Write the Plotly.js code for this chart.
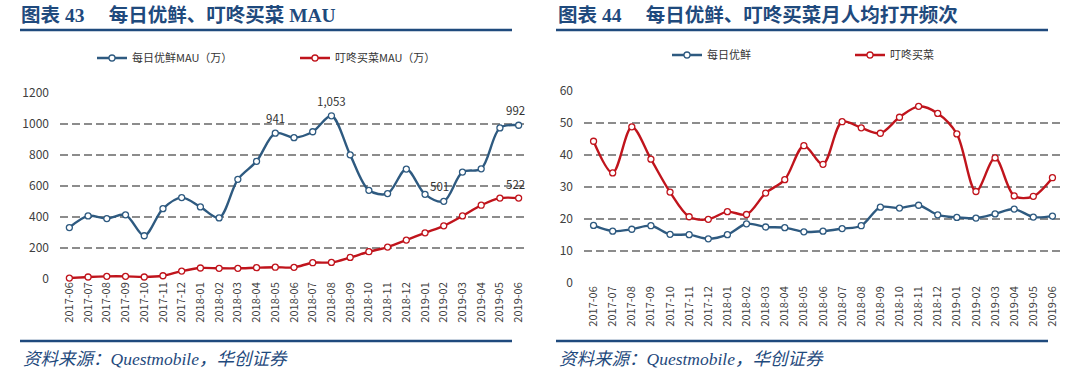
<!DOCTYPE html>
<html><head><meta charset="utf-8">
<script src="https://cdn.plot.ly/plotly-3.0.1.min.js"></script>
<style>html,body{margin:0;padding:0;background:#fff;overflow:hidden}#c{width:1080px;height:377px}</style>
</head><body><div id="c"></div>
<script>
const months = ["2017-06","2017-07","2017-08","2017-09","2017-10","2017-11","2017-12","2018-01","2018-02","2018-03","2018-04","2018-05","2018-06","2018-07","2018-08","2018-09","2018-10","2018-11","2018-12","2019-01","2019-02","2019-03","2019-04","2019-05","2019-06"];
const mryxMAU = [332,407,390,414,279,454,525,465,394,643,759,941,912,950,1053,801,572,551,709,546,501,690,711,975,992];
const ddmcMAU = [6,13,17,17,13,21,51,71,69,69,73,76,75,105,107,139,176,206,251,298,343,407,476,522,522];
const mryxFreq = [18.0,16.2,16.8,17.9,15.2,15.1,13.8,15.1,18.5,17.5,17.3,16.0,16.2,17.0,17.9,23.7,23.4,24.3,21.3,20.5,20.3,21.6,23.1,20.6,20.9];
const ddmcFreq = [44.3,34.4,48.8,38.7,28.4,20.7,19.9,22.3,21.4,28.1,32.3,42.9,37.1,50.4,48.5,46.8,51.8,55.2,53.0,46.6,28.6,39.1,27.2,27.1,32.9];
const labelIdxBlue = [11,14,20,24];
const labelIdxRed = [24];
const leftNames = ["每日优鲜MAU（万）","叮咚买菜MAU（万）"];
const rightNames = ["每日优鲜","叮咚买菜"];

const W=1080,H=377;
const px=x=>x/W, py=y=>1-y/H;
const BLUE="#2E5A80", RED="#C0141C", NAVY="#1F4A7D";
const CJK="'Noto Sans CJK SC', 'Noto Sans', sans-serif";

function tr(x,y,name,color,xa,ya,leg){
  return {x:x,y:y,name:name,type:'scatter',mode:'lines+markers',xaxis:xa,yaxis:ya,legend:leg,
    line:{color:color,width:2.4,shape:'spline',smoothing:0.9},
    marker:{symbol:'circle',size:6,color:'#fff',line:{color:color,width:1.3}},cliponaxis:false};
}
const data=[
  tr(months,mryxMAU,leftNames[0],BLUE,'x','y','legend'),
  tr(months,ddmcMAU,leftNames[1],RED,'x','y','legend2'),
  tr(months,mryxFreq,rightNames[0],BLUE,'x2','y2','legend3'),
  tr(months,ddmcFreq,rightNames[1],RED,'x2','y2','legend4')
];
const fmt=v=>v.toLocaleString('en-US');
const ann=[];
labelIdxBlue.forEach(i=>{
  ann.push({x:months[i],y:mryxMAU[i],xref:'x',yref:'y',text:fmt(mryxMAU[i]),showarrow:false,
    yanchor:'bottom',yshift:5,xshift:(i===20?-4:(i===24?-3:0)),font:{family:CJK,size:11.5,color:'#333'}});
});
labelIdxRed.forEach(i=>{
  ann.push({x:months[i],y:ddmcMAU[i],xref:'x',yref:'y',text:fmt(ddmcMAU[i]),showarrow:false,
    yanchor:'bottom',yshift:4,xshift:-3,font:{family:CJK,size:11.5,color:'#333'}});
});
const titleFont={family:"'Liberation Serif', 'Noto Sans CJK SC', serif",size:19.5,color:NAVY};
ann.push({x:px(19),y:py(15),xref:'paper',yref:'paper',xanchor:'left',yanchor:'middle',showarrow:false,
  text:"<b>图表 43　 每日优鲜、叮咚买菜 MAU</b>",font:titleFont});
ann.push({x:px(556),y:py(15),xref:'paper',yref:'paper',xanchor:'left',yanchor:'middle',showarrow:false,
  text:"<b>图表 44　 每日优鲜、叮咚买菜月人均打开频次</b>",font:titleFont});
const srcFont={family:"'Liberation Serif', 'Noto Sans CJK SC', serif",size:17.5,color:NAVY};
ann.push({x:px(21),y:py(359),xref:'paper',yref:'paper',xanchor:'left',yanchor:'middle',showarrow:false,
  text:"<i>资料来源：Questmobile，华创证券</i>",font:srcFont});
ann.push({x:px(557),y:py(359),xref:'paper',yref:'paper',xanchor:'left',yanchor:'middle',showarrow:false,
  text:"<i>资料来源：Questmobile，华创证券</i>",font:srcFont});

const lineShape=(x0,x1,y)=>({type:'line',xref:'paper',yref:'paper',x0:px(x0),x1:px(x1),y0:py(y),y1:py(y),line:{color:NAVY,width:2.5}});
const shapes=[lineShape(20,512,30),lineShape(556,1048,30),lineShape(20,512,341),lineShape(556,1048,341)];

const xaxBase={type:'category',range:[-0.5,24.5],tickangle:-90,showgrid:false,zeroline:false,showline:false,
  ticks:'',tickfont:{family:CJK,size:11,color:'#404040'},fixedrange:true,automargin:false};
const yaxBase={showgrid:true,griddash:'8px,4px',gridcolor:'#8c8c8c',gridwidth:2,zeroline:false,showline:false,
  ticks:'',ticklabelstandoff:10,tickfont:{family:CJK,size:12,color:'#404040'},fixedrange:true,automargin:false};
const legBase=(x,y)=>({orientation:'v',x:px(x),y:py(y),xanchor:'left',yanchor:'middle',
  font:{family:CJK,size:11,color:'#333'},itemwidth:30,bgcolor:'rgba(0,0,0,0)',borderwidth:0,tracegroupgap:0});

const layout={
  width:W,height:H,margin:{l:0,r:0,t:0,b:0,autoexpand:false},paper_bgcolor:'#fff',plot_bgcolor:'#fff',
  showlegend:true,
  xaxis:Object.assign({},xaxBase,{domain:[px(60),px(528)],anchor:'y'}),
  yaxis:Object.assign({},yaxBase,{domain:[py(279),py(93)],range:[0,1200],dtick:200,anchor:'x'}),
  xaxis2:Object.assign({},xaxBase,{domain:[px(584),px(1062)],anchor:'y2'}),
  yaxis2:Object.assign({},yaxBase,{domain:[py(283),py(91)],range:[0,60],dtick:10,anchor:'x2'}),
  legend:legBase(92,58),
  legend2:legBase(295,58),
  legend3:legBase(667,55),
  legend4:legBase(850,55),
  annotations:ann,shapes:shapes
};
Plotly.newPlot('c',data,layout,{staticPlot:true,displayModeBar:false});
</script></body></html>
